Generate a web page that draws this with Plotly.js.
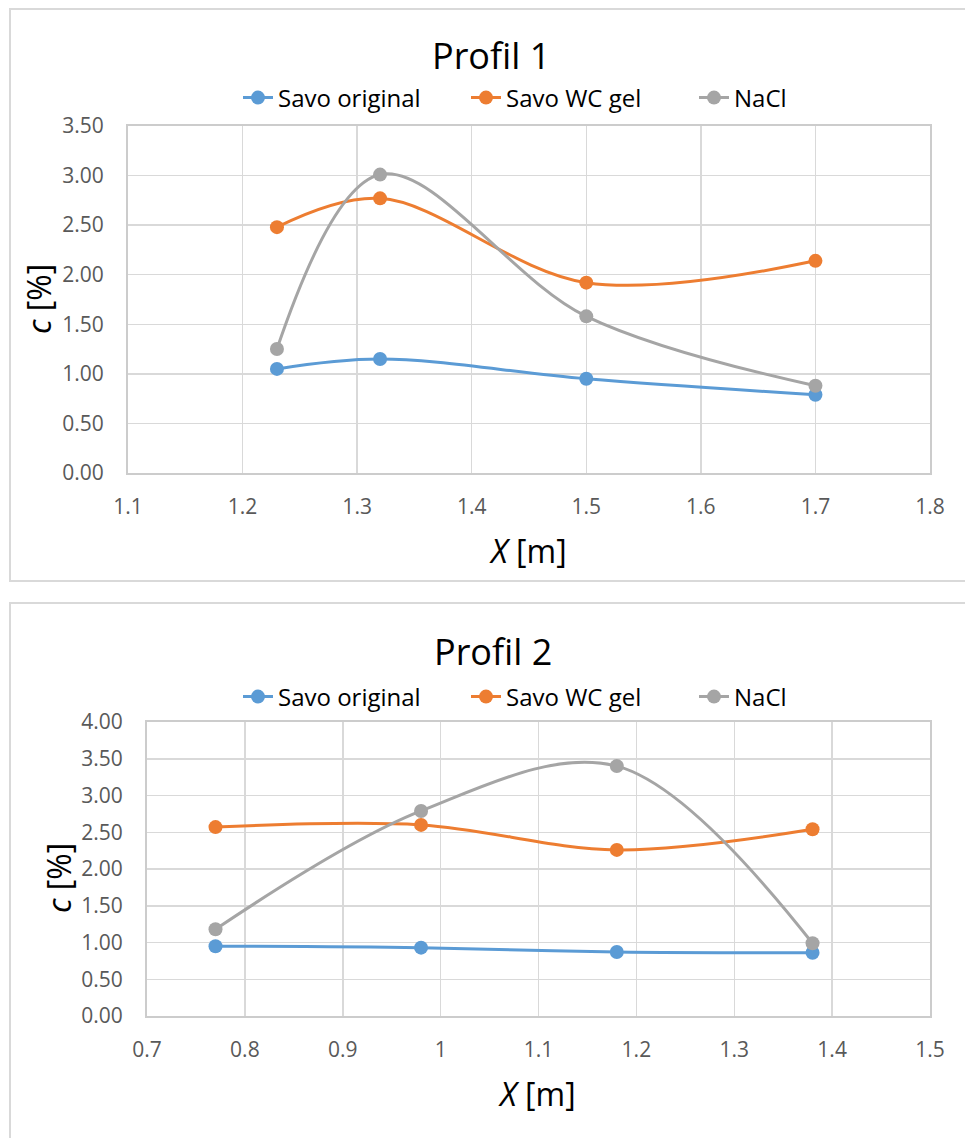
<!DOCTYPE html>
<html>
<head>
<meta charset="utf-8">
<script src="https://cdn.plot.ly/plotly-3.0.1.min.js"></script>
<style>
html,body{margin:0;padding:0;background:#fff;}
#chart{width:965px;height:1138px;}
</style>
</head>
<body>
<div id="chart"></div>
<script>
// ---- Data ----
const seriesNames = ["Savo original", "Savo WC gel", "NaCl"];
const seriesColors = ["#5B9BD5", "#ED7D31", "#A5A5A5"];

// Profil 1
const p1X = [1.23, 1.32, 1.5, 1.7];
const p1SavoOriginal = [1.05, 1.15, 0.95, 0.79];
const p1SavoWCgel = [2.48, 2.77, 1.92, 2.14];
const p1NaCl = [1.25, 3.01, 1.58, 0.88];

// Profil 2
const p2X = [0.77, 0.98, 1.18, 1.38];
const p2SavoOriginal = [0.95, 0.93, 0.87, 0.86];
const p2SavoWCgel = [2.57, 2.60, 2.26, 2.54];
const p2NaCl = [1.18, 2.79, 3.40, 0.99];

const titles = ["Profil 1", "Profil 2"];
const xTitle = "<i>X</i> [m]";
const yTitle = "<i>c</i> [%]";

// ---- Build ----
const W = 965, H = 1138;
const px = v => v / W;
const py = v => 1 - v / H;
const FONT = "Open Sans, Noto Sans, sans-serif";

function mk(x, ys, xa, ya, leg) {
  return ys.map((y, i) => ({
    type: "scatter", mode: "lines+markers",
    x: x, y: y, name: seriesNames[i],
    xaxis: xa, yaxis: ya, legend: leg, showlegend: true,
    line: {color: seriesColors[i], width: 3, shape: "spline", smoothing: 1},
    marker: {color: seriesColors[i], size: 14}
  }));
}

const traces = [
  ...mk(p1X, [p1SavoOriginal, p1SavoWCgel, p1NaCl], "x", "y", "legend"),
  ...mk(p2X, [p2SavoOriginal, p2SavoWCgel, p2NaCl], "x2", "y2", "legend2")
];

const gridC = "#d9d9d9";
function xax(range, dom, anchor) {
  return {
    domain: dom, anchor: anchor, range: range, dtick: 0.1, tick0: 0,
    showgrid: true, gridcolor: gridC, gridwidth: 1.5,
    showline: true, linecolor: "#cccccc", linewidth: 2, mirror: true,
    zeroline: false,
    ticks: "outside", ticklen: 14, tickcolor: "rgba(0,0,0,0)",
    tickfont: {family: FONT, size: 21, color: "#595959"},
    fixedrange: true
  };
}
function yax(range, dom, anchor) {
  return {
    domain: dom, anchor: anchor, range: range, dtick: 0.5, tick0: 0,
    tickformat: ".2f",
    showgrid: true, gridcolor: gridC, gridwidth: 1.5,
    showline: true, linecolor: "#cccccc", linewidth: 2, mirror: true,
    zeroline: false,
    ticks: "outside", ticklen: 18, tickcolor: "rgba(0,0,0,0)",
    tickfont: {family: FONT, size: 21, color: "#595959"},
    fixedrange: true
  };
}
function leg(y) {
  return {
    orientation: "h", x: px(238), xanchor: "left", y: py(y), yanchor: "middle",
    font: {family: FONT, size: 24, color: "#000"},
    bgcolor: "rgba(0,0,0,0)", entrywidth: 183, entrywidthmode: "pixels"
  };
}

const layout = {
  width: W, height: H,
  margin: {l: 0, r: 0, t: 0, b: 0},
  paper_bgcolor: "#fff", plot_bgcolor: "#fff",
  showlegend: true,
  font: {family: FONT},
  xaxis: xax([1.1, 1.8], [px(128), px(930)], "y"),
  yaxis: yax([0, 3.5], [py(473), py(126)], "x"),
  xaxis2: xax([0.7, 1.5], [px(147), px(930)], "y2"),
  yaxis2: yax([0, 4], [py(1016), py(722)], "x2"),
  legend: leg(98),
  legend2: leg(697),
  shapes: [
    {type: "rect", xref: "paper", yref: "paper", x0: px(10), x1: 1.05, y0: py(581), y1: py(9),
     line: {color: "#d9d9d9", width: 2}, layer: "below"},
    {type: "rect", xref: "paper", yref: "paper", x0: px(10), x1: 1.05, y0: -0.05, y1: py(603),
     line: {color: "#d9d9d9", width: 2}, layer: "below"}
  ],
  annotations: [
    {text: titles[0], xref: "paper", yref: "paper", x: px(491), y: py(56), xanchor: "center", yanchor: "middle",
     showarrow: false, font: {family: FONT, size: 36, color: "#000"}},
    {text: titles[1], xref: "paper", yref: "paper", x: px(493), y: py(651), xanchor: "center", yanchor: "middle",
     showarrow: false, font: {family: FONT, size: 36, color: "#000"}},
    {text: xTitle, xref: "paper", yref: "paper", x: px(528), y: py(550), xanchor: "center", yanchor: "middle",
     showarrow: false, font: {family: FONT, size: 32, color: "#000"}},
    {text: xTitle, xref: "paper", yref: "paper", x: px(537), y: py(1093), xanchor: "center", yanchor: "middle",
     showarrow: false, font: {family: FONT, size: 32, color: "#000"}},
    {text: yTitle, xref: "paper", yref: "paper", x: px(38), y: py(299), xanchor: "center", yanchor: "middle",
     textangle: -90, showarrow: false, font: {family: FONT, size: 32, color: "#000"}},
    {text: yTitle, xref: "paper", yref: "paper", x: px(58), y: py(878), xanchor: "center", yanchor: "middle",
     textangle: -90, showarrow: false, font: {family: FONT, size: 32, color: "#000"}}
  ]
};

Plotly.newPlot("chart", traces, layout, {displayModeBar: false, staticPlot: true});
</script>
</body>
</html>
